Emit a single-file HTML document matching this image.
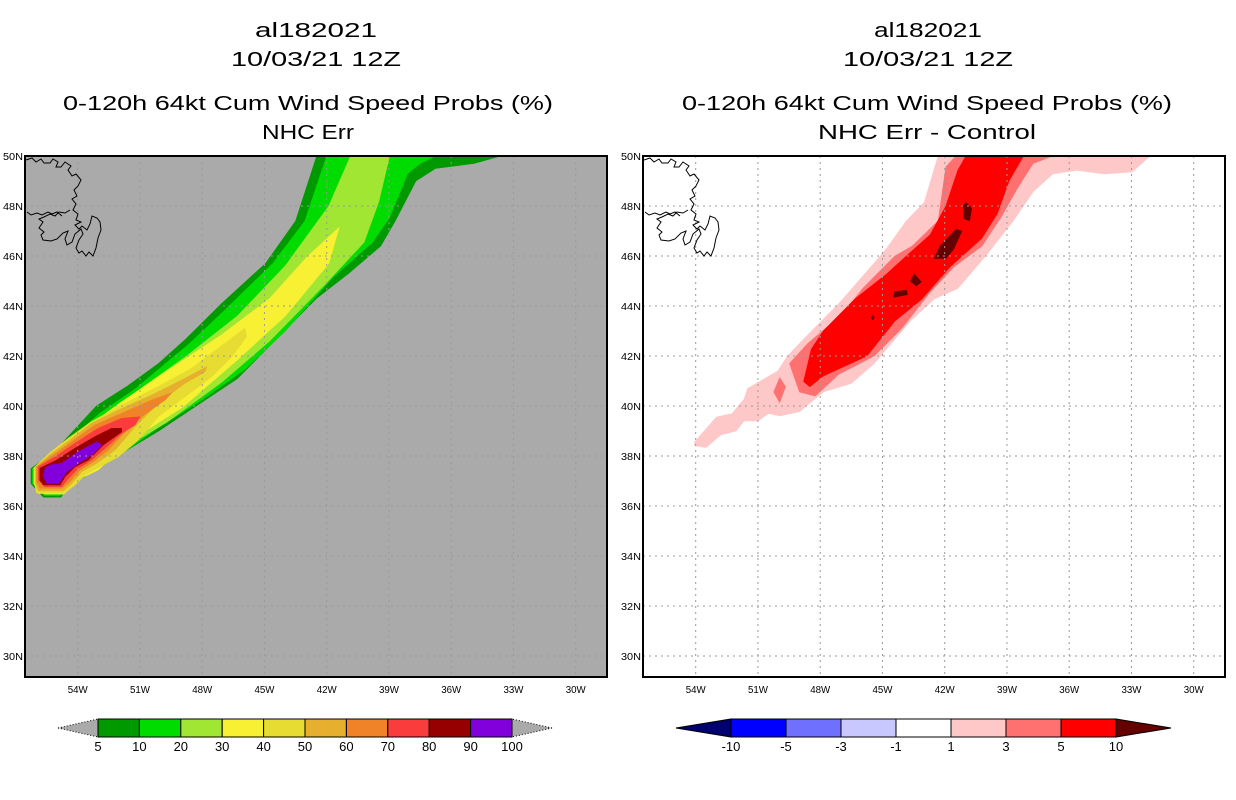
<!DOCTYPE html>
<html><head><meta charset="utf-8"><style>
html,body{margin:0;padding:0;background:#fff;}
svg{display:block;font-family:"Liberation Sans",sans-serif;}
</style></head><body>
<svg id="root" width="1236" height="800" viewBox="0 0 1236 800">
<defs>
<clipPath id="clipL"><rect x="25" y="156" width="582" height="521"/></clipPath>
<clipPath id="clipR"><rect x="643" y="156" width="582" height="521"/></clipPath>
</defs>
<g font-size="20" text-anchor="middle" fill="#000">
<text x="316" y="37" textLength="122" lengthAdjust="spacingAndGlyphs">al182021</text>
<text x="316" y="66" textLength="170" lengthAdjust="spacingAndGlyphs">10/03/21 12Z</text>
<text x="308" y="110" textLength="490" lengthAdjust="spacingAndGlyphs">0-120h 64kt Cum Wind Speed Probs (%)</text>
<text x="308" y="139" textLength="92" lengthAdjust="spacingAndGlyphs">NHC Err</text>
</g>
<g font-size="20" text-anchor="middle" fill="#000">
<text x="928" y="37" textLength="108" lengthAdjust="spacingAndGlyphs">al182021</text>
<text x="928" y="66" textLength="170" lengthAdjust="spacingAndGlyphs">10/03/21 12Z</text>
<text x="927" y="110" textLength="490" lengthAdjust="spacingAndGlyphs">0-120h 64kt Cum Wind Speed Probs (%)</text>
<text x="927" y="139" textLength="218" lengthAdjust="spacingAndGlyphs">NHC Err - Control</text>
</g>
<g id="leftPanel"></g>
<g id="rightPanel"></g>
<g id="leftBar"></g>
<g id="rightBar"></g>
</svg>
<script>
// ---- axis data ----
const lonTicks = [-54,-51,-48,-45,-42,-39,-36,-33,-30];
const lonLabels = ["54W","51W","48W","45W","42W","39W","36W","33W","30W"];
const latTicks = [50,48,46,44,42,40,38,36,34,32,30];
const latLabels = ["50N","48N","46N","44N","42N","40N","38N","36N","34N","32N","30N"];

// ---- left panel contour polygons (lon/lat) ----
const p5Lon = [-42.48,-43.5,-44.95,-47.06,-48.76,-50.1,-51.6,-53.1,-54.1,-54.93,-55.42,-56.25,-56.25,-55.65,-54.8,-54.4,-53.7,-52.75,-51.6,-50.1,-48.2,-46.3,-44.4,-42.5,-40.95,-39.4,-38.7,-37.7,-36.76,-34.9,-33.6];
const p5Lat = [50,47.4,45.7,44.1,42.7,41.7,40.8,40.0,39.1,38.35,38.0,37.5,36.9,36.35,36.35,37.0,37.15,37.65,38.25,39.0,40.05,41.1,42.7,44.3,45.3,46.4,47.4,49.0,49.5,49.7,50];
const p10Lon = [-42.0,-43.05,-44.6,-46.7,-48.6,-51.2,-52.95,-54.1,-54.95,-55.45,-56.18,-56.18,-55.6,-54.85,-54.5,-53.6,-52.2,-50.1,-48.0,-45.9,-44.0,-41.7,-39.8,-38.97,-38.1,-37.5,-36.75];
const p10Lat = [50,47.4,45.7,44.0,42.5,40.7,39.7,38.85,38.25,37.95,37.5,36.9,36.42,36.42,37.05,37.25,37.9,39.15,40.25,41.5,43.0,45.15,46.55,47.55,49.3,49.7,50];
const p20Lon = [-40.85,-41.9,-44.0,-46.3,-48.75,-51.45,-53.5,-55.2,-56.12,-56.12,-55.6,-54.7,-54.3,-53.7,-52.0,-49.7,-47.06,-44.75,-42.1,-40.2,-39.5,-38.97];
const p20Lat = [50,48,45.6,43.6,42.0,40.4,39.1,38.0,37.5,36.9,36.47,36.47,37.1,37.3,38.2,39.35,40.95,42.6,44.85,46.55,48.15,50];
const p30Lon = [-41.4,-42.9,-44.75,-47.06,-49.7,-52.0,-53.9,-55.3,-56.08,-56.08,-55.9,-54.62,-54.1,-53.0,-51.6,-48.95,-46.3,-44.0,-41.9];
const p30Lat = [47.15,46.0,44.3,42.85,41.4,40.1,38.95,38.1,37.55,36.85,36.5,36.5,37.0,37.45,38.55,39.95,41.85,43.6,45.7];
const p40Lon = [-45.94,-46.9,-48.51,-50.12,-51.88,-53.33,-54.45,-55.33,-56.06,-56.06,-55.99,-54.61,-54.13,-53.65,-52.93,-52.04,-51.08,-50.12,-48.83,-47.54,-46.58,-45.86];
const p40Lat = [43.11,42.51,41.51,40.77,40.04,39.38,38.71,38.14,37.57,36.84,36.53,36.53,36.84,37.24,37.57,37.97,38.64,39.57,40.37,41.17,41.97,42.77];
const p50Lon = [-56.02,-55.25,-54.37,-53.33,-52.04,-50.43,-48.99,-47.78,-47.87,-48.83,-50.12,-51.24,-52.2,-53.08,-53.81,-54.29,-54.69,-55.9,-56.02];
const p50Lat = [37.57,38.11,38.64,39.31,39.84,40.44,41.04,41.57,41.37,40.91,40.11,39.17,38.24,37.71,37.37,36.9,36.61,36.61,36.9];
const p60Lon = [-55.98,-55.18,-54.29,-53.17,-51.88,-50.43,-49.47,-49.79,-50.92,-51.72,-52.53,-53.25,-53.89,-54.37,-54.77,-55.82,-55.98];
const p60Lat = [37.57,38.04,38.57,39.24,39.71,40.24,40.53,40.24,39.57,38.97,38.24,37.77,37.44,36.97,36.71,36.71,36.97];
const p70Lon = [-55.9,-55.09,-54.13,-53.01,-51.88,-51.0,-51.24,-51.88,-52.68,-53.33,-53.97,-54.45,-54.77,-55.58,-55.9];
const p70Lat = [37.57,37.97,38.51,39.11,39.51,39.57,39.24,38.91,38.31,37.84,37.51,37.11,36.77,36.77,37.04];
const p80Lon = [-55.82,-55.01,-54.13,-53.17,-52.36,-51.88,-51.88,-52.77,-53.49,-54.13,-54.61,-54.85,-55.66,-55.82];
const p80Lat = [37.51,37.84,38.31,38.77,39.11,39.11,38.97,38.44,37.84,37.57,37.17,36.84,36.84,37.04];
const p90Lon = [-55.58,-55.33,-54.77,-53.97,-53.08,-52.84,-53.33,-53.97,-54.53,-54.93,-55.49,-55.66];
const p90Lat = [37.51,37.64,37.71,38.17,38.57,38.44,38.04,37.71,37.37,36.9,36.9,37.17];

// ---- right panel difference polygons ----
const d1Lon = [-42.32,-42.99,-43.85,-44.8,-45.56,-47.1,-48.6,-49.57,-50.05,-51.5,-51.67,-52.24,-53.0,-54.06,-54.06,-53.5,-52.8,-52.05,-51.67,-51.0,-50.5,-49.95,-49.0,-47.85,-46.5,-45.4,-43.66,-42.5,-41.37,-40.03,-38.7,-37.74,-36.8,-35.64,-34.3,-32.97,-32.1];
const d1Lat = [50,48.14,47.4,46.3,45.56,44.1,42.85,42.0,41.4,40.7,40.27,39.7,39.56,38.56,38.41,38.34,38.84,39.0,39.4,39.4,39.7,39.6,39.77,40.56,40.9,41.7,43.4,44.28,44.7,46.0,47.4,48.57,49.28,49.43,49.28,49.36,50];
const d3Lon = [-41.46,-41.94,-42.32,-43.56,-44.4,-45.95,-46.9,-48.6,-49.48,-49.0,-48.24,-47.1,-45.4,-44.04,-42.7,-41.56,-40.2,-39.27,-38.5,-37.74,-36.8];
const d3Lat = [50,49.57,47.4,46.4,46.0,44.7,43.7,42.5,41.7,40.56,40.4,41.27,42.0,43.13,44.56,45.56,46.4,47.57,48.7,49.7,50];
const d3bLon = [-49.95,-49.67,-49.95,-50.24];
const d3bLat = [41.13,40.77,40.13,40.56];
const d5Lon = [-40.98,-41.37,-41.94,-42.7,-43.66,-44.8,-46.33,-47.85,-48.43,-48.8,-48.5,-47.85,-45.75,-44.4,-43.1,-41.75,-40.22,-39.46,-38.9,-38.2];
const d5Lat = [50,49.43,48,46.85,46.14,45.28,44.28,43.0,42.27,40.98,40.77,41.2,42.0,43.4,44.28,45.56,46.7,47.7,49.0,50];
const d10aLon = [-40.98,-40.7,-40.8,-41.08,-41.1];
const d10aLat = [48.14,47.9,47.4,47.5,48.0];
const d10bLon = [-41.46,-41.17,-41.56,-41.94,-42.5,-42.23];
const d10bLat = [47.07,47.0,46.28,45.9,45.9,46.4];
const d10cLon = [-43.47,-43.13,-43.37,-43.66];
const d10cLat = [45.28,44.96,44.8,45.0];
const d10dLon = [-44.42,-43.85,-43.79,-44.46];
const d10dLat = [44.56,44.64,44.45,44.35];
const d10eLon = [-45.47,-45.4,-45.47,-45.54];
const d10eLat = [43.62,43.53,43.44,43.53];

// ---- colorbar data ----
const probLevels = ["5","10","20","30","40","50","60","70","80","90","100"];
const probColors = ["#009a00","#00dc00","#a0e632","#f8f032","#e6dc32","#e6af2d","#f08228","#fa3c3c","#960000","#8200dc"];
const diffLevels = ["-10","-5","-3","-1","1","3","5","10"];
const diffColors = ["#0000ff","#7070ff","#c8c8ff","#ffffff","#ffc8c8","#ff7070","#ff0000"];

const NS = "http://www.w3.org/2000/svg";
function mk(tag, attrs, parent){const e=document.createElementNS(NS,tag);for(const k in attrs)e.setAttribute(k,attrs[k]);if(parent)parent.appendChild(e);return e;}
function xScale(off){return lon => off + 77.7 + (lon + 54) * 20.75;}
function yScale(lat){return 156 + (50 - lat) * 25;}

function poly(g, lons, lats, xs, fill, name){
  const pts = lons.map((l,i)=> xs(l).toFixed(1)+","+yScale(lats[i]).toFixed(1)).join(" ");
  const p = mk("polygon",{points:pts,fill:fill,stroke:fill,"stroke-width":"0.6"},g);
  
  
}

function coast(g, off, color){
  const d = "M"+(off+26)+",160 l6,-2 l4,4 l5,-3 l3,4 l6,0 l3,-4 l5,3 l-2,5 l5,0 l4,-5 l6,4 l-3,4 l4,6 l4,-2 l5,6 l-3,6 l-4,4 l3,6 l-5,3 l4,5 l-3,6 l5,4 l-2,6 l5,2 l-6,3 l4,4 l3,-3 l5,4 l3,-6 l2,-8 l5,2 l3,4 l1,8 l-3,8 l-2,10 l-3,8 l-4,-4 l-3,4 l-4,-5 l-3,2 l-3,-5 l3,-8 l4,-6 l-2,-5 l-6,5 l-3,8 l-5,3 l-2,-6 l3,-8 l-5,2 l-6,6 l-6,2 l-8,-1 l-2,-5 l3,-3 l-5,-4 l4,-6 l-4,-3 l5,-2 l6,-3 l5,2 l4,-4 l6,1 l5,-3 M"+(off+27)+",212 l4,3 l6,-2 l5,2 l6,-3 l4,2 l5,-2 l5,4";
  const p = mk("path",{d:d,fill:"none",stroke:color,"stroke-width":"1"},g);
  
  
}

function panel(id, off, bg, layers, clipId){
  const root = document.getElementById(id);
  const xs = xScale(off);
  const bgR = mk("rect",{x:off+25,y:156,width:582,height:521,fill:bg},root);
  
  
  const g = mk("g",{"clip-path":"url(#"+clipId+")"},root);
  layers.forEach(L => poly(g, L[0], L[1], xs, L[2], L[3]));
  const grid = mk("g",{stroke:"#9a9a9a","stroke-width":"1","stroke-dasharray":"2,4"},g);
  
  
  lonTicks.forEach(l => mk("line",{x1:xs(l),x2:xs(l),y1:156,y2:677},grid));
  latTicks.forEach(l => mk("line",{x1:off+25,x2:off+607,y1:yScale(l),y2:yScale(l)},grid));
  coast(g, off, "#000");
  const fr = mk("rect",{x:off+25,y:156,width:582,height:521,fill:"none",stroke:"#000","stroke-width":"2"},root);
  
  
  const xl = mk("g",{"font-size":"10","text-anchor":"middle",fill:"#000"},root);
  
  
  lonTicks.forEach((l,i)=>{const t=mk("text",{x:xs(l),y:693,textLength:"20",lengthAdjust:"spacingAndGlyphs"},xl);t.textContent=lonLabels[i];});
  const yl = mk("g",{"font-size":"10","text-anchor":"end",fill:"#000"},root);
  
  
  latTicks.forEach((l,i)=>{const t=mk("text",{x:off+23,y:yScale(l)+4,textLength:"20",lengthAdjust:"spacingAndGlyphs"},yl);t.textContent=latLabels[i];});
}

panel("leftPanel", 0, "#aaaaaa", [
  [p5Lon,p5Lat,probColors[0],"prob-5"],[p10Lon,p10Lat,probColors[1],"prob-10"],
  [p20Lon,p20Lat,probColors[2],"prob-20"],[p30Lon,p30Lat,probColors[3],"prob-30"],
  [p40Lon,p40Lat,probColors[4],"prob-40"],[p50Lon,p50Lat,probColors[5],"prob-50"],
  [p60Lon,p60Lat,probColors[6],"prob-60"],[p70Lon,p70Lat,probColors[7],"prob-70"],
  [p80Lon,p80Lat,probColors[8],"prob-80"],[p90Lon,p90Lat,probColors[9],"prob-90"]
], "clipL");
panel("rightPanel", 618, "#ffffff", [
  [d1Lon,d1Lat,diffColors[4],"diff-1"],[d3Lon,d3Lat,diffColors[5],"diff-3"],
  [d3bLon,d3bLat,diffColors[5],"diff-3-island"],[d5Lon,d5Lat,diffColors[6],"diff-5"],
  [d10aLon,d10aLat,"#640000","diff-10-a"],[d10bLon,d10bLat,"#640000","diff-10-b"],
  [d10cLon,d10cLat,"#640000","diff-10-c"],[d10dLon,d10dLat,"#640000","diff-10-d"],
  [d10eLon,d10eLat,"#640000","diff-10-e"]
], "clipR");

function colorbar(id, x0, boxW, tri, colors, labels, leftTri, rightTri, dashedTri){
  const g = document.getElementById(id);
  const y0 = 719, h = 18, n = colors.length;
  const x1 = x0 + boxW*n;
  const tl = mk("polygon",{points:(x0-tri)+","+(y0+h/2)+" "+x0+","+y0+" "+x0+","+(y0+h),fill:leftTri,stroke:"#000","stroke-width":"1","stroke-dasharray":dashedTri?"1,2":"none"},g);
  
  
  const tr = mk("polygon",{points:(x1+tri)+","+(y0+h/2)+" "+x1+","+y0+" "+x1+","+(y0+h),fill:rightTri,stroke:"#000","stroke-width":"1","stroke-dasharray":dashedTri?"1,2":"none"},g);
  
  
  colors.forEach((c,i)=>{
    const r = mk("rect",{x:x0+i*boxW,y:y0,width:boxW,height:h,fill:c,stroke:"#000","stroke-width":"1"},g);
    
    
  });
  labels.forEach((s,i)=>{
    const t = mk("text",{x:x0+i*boxW,y:y0+h+14,"font-size":"13","text-anchor":"middle",fill:"#000"},g);
    
    
    t.textContent = s;
  });
}
colorbar("leftBar", 98, 41.4, 40, probColors, probLevels, "#aaaaaa", "#aaaaaa", true);
colorbar("rightBar", 731, 55, 55, diffColors, diffLevels, "#000070", "#640000", false);
</script>
</body></html>
